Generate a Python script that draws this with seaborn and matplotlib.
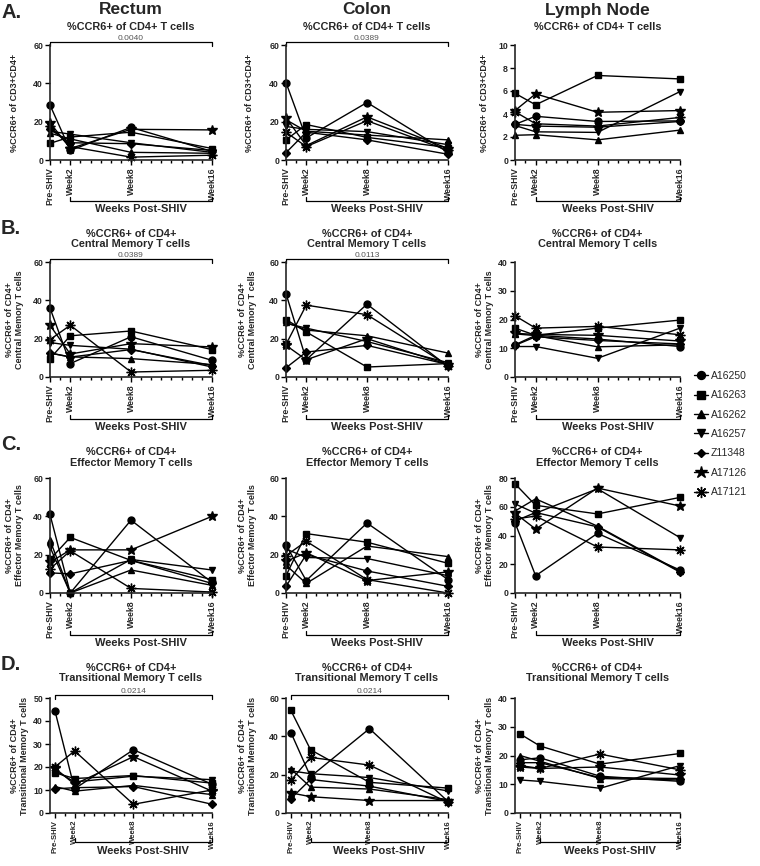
import numpy as np
import pandas as pd
import matplotlib
matplotlib.use("Agg")
import matplotlib.pyplot as plt
import seaborn as sns

weeks = [0, 2, 8, 16]
week_labels = ['Pre-SHIV', 'Week2', 'Week8', 'Week16']
animals = ['A16250', 'A16263', 'A16262', 'A16257', 'Z11348', 'A17126', 'A17121']
animal_markers = ['o', 's', '^', 'v', 'D', '*', (8, 2, 0)]
marker_sizes = [5, 4.8, 5, 5, 3.6, 7.5, 7]

# one row per animal, one column per time point
rectum_total = [[28.7, 5.0, 17.0, 4.5], [8.7, 12.0, 14.5, 6.0], [14.0, 11.0, 4.0, 3.5],
                [15.0, 13.5, 9.0, 4.0], [16.0, 9.0, 8.5, 5.0], [19.5, 6.0, 16.0, 15.7],
                [17.5, 7.0, 1.5, 2.5]]
colon_total = [[40.4, 11.5, 30.0, 4.0], [10.5, 18.5, 11.8, 6.5], [21.0, 15.0, 13.0, 10.5],
               [17.5, 16.0, 14.8, 8.0], [3.8, 14.5, 10.5, 3.0], [22.0, 7.5, 22.5, 6.0],
               [14.5, 7.0, 20.5, 5.0]]
ln_total = [[3.1, 3.8, 3.35, 3.4], [5.8, 4.8, 7.35, 7.05], [2.15, 2.2, 1.75, 2.6],
            [3.0, 2.45, 2.4, 5.95], [3.1, 2.95, 2.85, 3.35], [4.3, 5.75, 4.15, 4.3],
            [4.2, 3.15, 2.95, 3.7]]

rectum_cm = [[36.0, 7.0, 21.0, 8.7], [9.6, 21.5, 24.0, 14.3], [12.5, 10.5, 9.6, 6.5],
             [18.0, 16.5, 14.5, 5.2], [12.5, 10.4, 14.3, 6.0], [27.0, 12.0, 17.4, 15.7],
             [19.5, 27.0, 2.6, 3.5]]
colon_cm = [[43.5, 9.0, 38.0, 5.5], [30.0, 23.5, 5.2, 7.0], [28.5, 24.5, 21.5, 12.5],
            [28.0, 25.5, 18.5, 7.5], [4.8, 13.0, 16.5, 6.5], [16.5, 9.0, 20.0, 6.5],
            [17.0, 37.5, 32.5, 6.0]]
ln_cm = [[11.2, 14.5, 13.2, 10.6], [17.0, 14.5, 17.0, 19.8], [15.0, 14.4, 10.5, 11.2],
         [10.6, 10.6, 6.5, 17.0], [11.0, 14.0, 12.7, 11.5], [15.2, 14.8, 14.5, 12.5],
         [21.3, 17.0, 17.6, 14.7]]

rectum_em = [[41.0, 0.0, 38.0, 5.5], [17.5, 29.0, 17.0, 7.0], [27.5, 0.0, 12.0, 4.0],
             [24.0, 0.0, 17.5, 12.0], [10.5, 10.0, 17.0, 5.0], [16.0, 22.5, 22.5, 40.0],
             [12.5, 22.0, 2.4, 0.5]]
colon_em = [[25.0, 6.5, 36.5, 7.0], [9.0, 31.0, 26.5, 15.5], [14.5, 5.0, 24.5, 19.0],
            [23.0, 18.5, 18.0, 9.0], [3.5, 20.0, 11.5, 3.5], [16.5, 21.0, 6.5, 11.0],
            [19.5, 27.0, 7.0, 0.0]]
ln_em = [[49.0, 12.0, 41.5, 16.0], [76.0, 61.0, 55.0, 66.5], [57.0, 65.5, 46.5, 15.0],
         [62.0, 55.5, 72.5, 38.5], [50.0, 56.0, 46.0, 14.5], [55.5, 44.5, 73.0, 60.5],
         [51.5, 53.5, 32.0, 30.0]]

rectum_tm = [[44.5, 10.5, 27.5, 12.5], [17.5, 15.0, 16.3, 13.0], [11.5, 9.5, 12.0, 8.0],
             [18.5, 13.5, 16.0, 14.5], [10.5, 11.0, 11.5, 3.8], [19.5, 12.5, 24.5, 9.5],
             [20.0, 27.0, 3.8, 10.0]]
colon_tm = [[42.0, 19.0, 44.0, 6.0], [53.5, 33.0, 16.0, 13.0], [23.0, 13.5, 12.5, 7.0],
            [22.0, 20.5, 18.5, 11.5], [7.5, 17.5, 14.0, 6.0], [10.5, 8.5, 6.5, 6.5],
            [17.0, 29.0, 25.0, 5.5]]
ln_tm = [[18.5, 19.2, 12.8, 11.0], [27.5, 23.3, 17.0, 20.7], [20.0, 18.0, 12.0, 11.5],
         [11.5, 11.0, 8.6, 16.5], [17.5, 17.5, 12.3, 12.0], [16.0, 15.5, 16.0, 13.2],
         [16.5, 15.5, 20.5, 15.0]]

tissues = ['Rectum', 'Colon', 'Lymph Node']
row_letters = ['A.', 'B.', 'C.', 'D.']
row_titles = ['%CCR6+ of CD4+ T cells',
              '%CCR6+ of CD4+\nCentral Memory T cells',
              '%CCR6+ of CD4+\nEffector Memory T cells',
              '%CCR6+ of CD4+\nTransitional Memory T cells']
row_ylabels = ['%CCR6+ of CD3+CD4+',
               '%CCR6+ of CD4+\nCentral Memory T cells',
               '%CCR6+ of CD4+\nEffector Memory T cells',
               '%CCR6+ of CD4+\nTransitional Memory T cells']
panel_values = [[rectum_total, colon_total, ln_total],
                [rectum_cm, colon_cm, ln_cm],
                [rectum_em, colon_em, ln_em],
                [rectum_tm, colon_tm, ln_tm]]
y_max = [[60, 60, 10], [60, 60, 40], [60, 60, 80], [50, 60, 40]]
y_step = [[20, 20, 2], [20, 20, 10], [20, 20, 20], [10, 20, 10]]
p_values = [['0.0040', '0.0389', None], ['0.0389', '0.0113', None],
            [None, None, None], ['0.0214', '0.0214', None]]

sns.set_style('ticks')
plt.rcParams['font.family'] = ['Liberation Sans', 'DejaVu Sans']
plt.rcParams['axes.linewidth'] = 1.2

W, H = 760, 866
fig = plt.figure(figsize=(W / 100, H / 100), dpi=100)

# layout in pixels
col_left = [50, 286, 515]
col_width = [162, 162, 165]
row_top = [45, 262, 478, 698]
ax_h = 115
x_start = [0, 0, 0, -0.5]
bracket_drop = [41, 42, 42, 29]
title_pad = [10.5, 10.5, 9, 12]
# distance (px) from the y axis to the right edge of the y label
label_gap = [[31, 32, 26], [26, 29, 21], [26, 29, 21], [21, 29, 21]]


def draw_panel(ax, values, ymax, ystep, title, ylabel, pval, r, c):
    df = pd.DataFrame(values, index=animals, columns=weeks)
    df = df.reset_index(names='animal').melt(id_vars='animal', var_name='week', value_name='pct')
    df['week'] = df['week'].astype(int)
    for animal, marker, ms in zip(animals, animal_markers, marker_sizes):
        sub = df[df['animal'] == animal]
        sns.lineplot(data=sub, x='week', y='pct', ax=ax, color='black', lw=1,
                     marker=marker, ms=ms, mec='black', mew=1, errorbar=None,
                     label=animal, legend=False, clip_on=False)
    ax.set_xlim(x_start[r], 16)
    ax.set_ylim(0, ymax)
    ax.set_xticks(weeks)
    if r == 3:
        ax.set_xticklabels(week_labels, rotation=90, fontsize=5.6, fontweight='bold',
                           family=['Liberation Sans Narrow', 'Liberation Sans'])
    else:
        ax.set_xticklabels(week_labels, rotation=90, fontsize=6.3, fontweight='bold')
    ax.set_xticks(range(0, 17), minor=True)
    ax.set_yticks(np.arange(0, ymax + 1, ystep))
    ax.set_yticklabels([str(int(v)) for v in np.arange(0, ymax + 1, ystep)],
                       fontsize=6.3, fontweight='bold')
    ax.tick_params(axis='both', which='major', length=3.5, width=1, pad=1.5, color='black')
    ax.tick_params(axis='x', which='minor', length=2.5, width=1, color='black')
    sns.despine(ax=ax)
    ax.set_xlabel('')
    ax.set_ylabel(ylabel, fontsize=6.5, fontweight='bold', linespacing=1.1)
    ax.yaxis.set_label_coords(-label_gap[r][c] / col_width[c], 0.5)
    ax.set_title(title, fontsize=7.8, fontweight='bold', pad=title_pad[r], linespacing=1.05)

    trans = ax.get_xaxis_transform()
    # bracket under the x axis
    yb = -bracket_drop[r] / ax_h
    tick = 4 / ax_h
    ax.plot([2, 2, 16, 16], [yb + tick, yb, yb, yb + tick], transform=trans,
            color='black', lw=0.9, clip_on=False)
    ax.text(9, yb - 3.5 / ax_h, 'Weeks Post-SHIV', transform=trans, ha='center',
            va='top', fontsize=8, fontweight='bold')
    # significance bracket
    if pval:
        yt = 1 + 3 / ax_h
        ax.plot([0, 0, 16, 16], [yt - tick, yt, yt, yt - tick], transform=trans,
                color='black', lw=0.9, clip_on=False)
        ax.text(8, yt + 0.3 / ax_h, pval, transform=trans, ha='center', va='bottom',
                fontsize=6, color='#555555')


axes = []
for r in range(4):
    for c in range(3):
        rect = [col_left[c] / W, 1 - (row_top[r] + ax_h) / H, col_width[c] / W, ax_h / H]
        ax = fig.add_axes(rect)
        draw_panel(ax, panel_values[r][c], y_max[r][c], y_step[r][c], row_titles[r],
                   row_ylabels[r], p_values[r][c], r, c)
        axes.append(ax)

for c, name in enumerate(tissues):
    fig.text((col_left[c] + col_width[c] / 2) / W, 1 - 10 / H, name, ha='center',
             va='center', fontsize=12.5, fontweight='bold')

for r, letter in enumerate(row_letters):
    fig.text(1 / W, 1 - (row_top[r] - 33) / H, letter, ha='left', va='center',
             fontsize=14.5, fontweight='bold')

handles, labels = axes[0].get_legend_handles_labels()
fig.legend(handles, labels, loc='upper left', bbox_to_anchor=(694 / W, 1 - 371 / H),
           frameon=False, fontsize=7.5, handlelength=1.3, handletextpad=0.3,
           labelspacing=0.9, borderpad=0, borderaxespad=0, markerscale=1.15)

fig.savefig('out.png', dpi=100)
